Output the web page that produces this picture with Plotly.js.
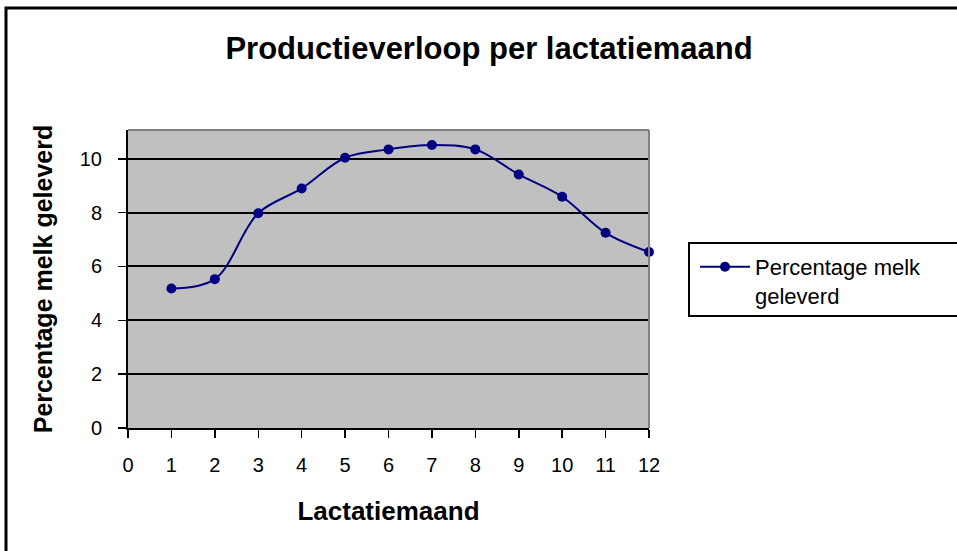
<!DOCTYPE html>
<html>
<head>
<meta charset="utf-8">
<script src="https://cdn.plot.ly/plotly-3.0.1.min.js"></script>
<style>
  html, body { margin: 0; padding: 0; background: #ffffff; }
  #chart { width: 957px; height: 551px; }
</style>
</head>
<body>
<div id="chart"></div>
<script>
// Data
const months = [1, 2, 3, 4, 5, 6, 7, 8, 9, 10, 11, 12];
const percentMilk = [5.18, 5.53, 7.98, 8.90, 10.04, 10.35, 10.51, 10.35, 9.42, 8.59, 7.25, 6.54];
const xTickVals = [0, 1, 2, 3, 4, 5, 6, 7, 8, 9, 10, 11, 12];
const yTickVals = [0, 2, 4, 6, 8, 10];
const seriesName = 'Percentage melk<br>geleverd';
const chartTitle = 'Productieverloop per lactatiemaand';
const xTitle = 'Lactatiemaand';
const yTitle = 'Percentage melk geleverd';

// Geometry of the plot area in pixels (for paper-coordinate shapes)
const W = 957, H = 551;
const L = 128, R = 649, T = 130, B = 428;
const px = v => (v - L) / (R - L);
const py = v => (B - v) / (B - T);

const FONT = 'Liberation Sans, Arial, sans-serif';

const trace = {
  x: months,
  y: percentMilk,
  type: 'scatter',
  mode: 'lines+markers',
  name: seriesName,
  cliponaxis: false,
  line: { color: '#000080', width: 2, shape: 'spline', smoothing: 1 },
  marker: { color: '#000080', size: 10, symbol: 'circle' }
};

const layout = {
  width: W,
  height: H,
  autosize: false,
  margin: { l: L, r: W - R, t: T, b: H - B, pad: 0 },
  paper_bgcolor: '#ffffff',
  plot_bgcolor: '#c0c0c0',
  title: {
    text: chartTitle,
    font: { family: FONT, size: 31, color: '#000000', weight: 'bold' },
    xref: 'container', yref: 'container',
    x: 489 / W, y: 1 - 48 / H, xanchor: 'center', yanchor: 'middle'
  },
  xaxis: {
    range: [0, 12],
    tickvals: xTickVals,
    ticktext: xTickVals.map(String),
    ticks: 'outside', ticklen: 8, tickwidth: 1.5, tickcolor: '#000000',
    showgrid: false, zeroline: false,
    showline: true, linecolor: '#000000', linewidth: 2,
    tickfont: { family: FONT, size: 20, color: '#000000' },
    ticklabelstandoff: 10,
    fixedrange: true,
    title: {
      text: xTitle,
      font: { family: FONT, size: 26, color: '#000000', weight: 'bold' },
      standoff: 27
    }
  },
  yaxis: {
    range: [0, 11.07],
    tickvals: yTickVals,
    ticktext: yTickVals.map(String),
    ticks: 'outside', ticklen: 8, tickwidth: 1.5, tickcolor: '#000000',
    showgrid: true, gridcolor: '#000000', gridwidth: 2,
    zeroline: false,
    showline: true, linecolor: '#000000', linewidth: 2,
    tickfont: { family: FONT, size: 20, color: '#000000' },
    ticklabelstandoff: 12,
    fixedrange: true,
    title: {
      text: yTitle,
      font: { family: FONT, size: 25, color: '#000000', weight: 'bold' },
      standoff: 20
    }
  },
  showlegend: true,
  legend: {
    x: px(695), y: py(246), xanchor: 'left', yanchor: 'top',
    bgcolor: 'rgba(0,0,0,0)', borderwidth: 0,
    font: { family: FONT, size: 22, color: '#000000' },
    itemwidth: 50,
    valign: 'top',
    tracegroupgap: 0
  },
  shapes: [
    // gray plot-area border on top and right
    { type: 'line', xref: 'paper', yref: 'paper', x0: 0, x1: 1, y0: 1, y1: 1,
      line: { color: '#808080', width: 2 } },
    { type: 'line', xref: 'paper', yref: 'paper', x0: 1, x1: 1, y0: 0, y1: 1,
      line: { color: '#808080', width: 2 } },
    // legend box (extends past the right edge, as in the reference)
    { type: 'rect', xref: 'paper', yref: 'paper',
      x0: px(689), x1: px(1000), y0: py(316), y1: py(243),
      line: { color: '#000000', width: 2 }, fillcolor: 'rgba(0,0,0,0)' },
    // outer chart frame (right and bottom are cropped off)
    { type: 'rect', xref: 'paper', yref: 'paper',
      x0: px(6), x1: px(1010), y0: py(600), y1: py(8),
      line: { color: '#000000', width: 3 }, fillcolor: 'rgba(0,0,0,0)' }
  ]
};

Plotly.newPlot('chart', [trace], layout, { staticPlot: true, displayModeBar: false });
</script>
</body>
</html>
